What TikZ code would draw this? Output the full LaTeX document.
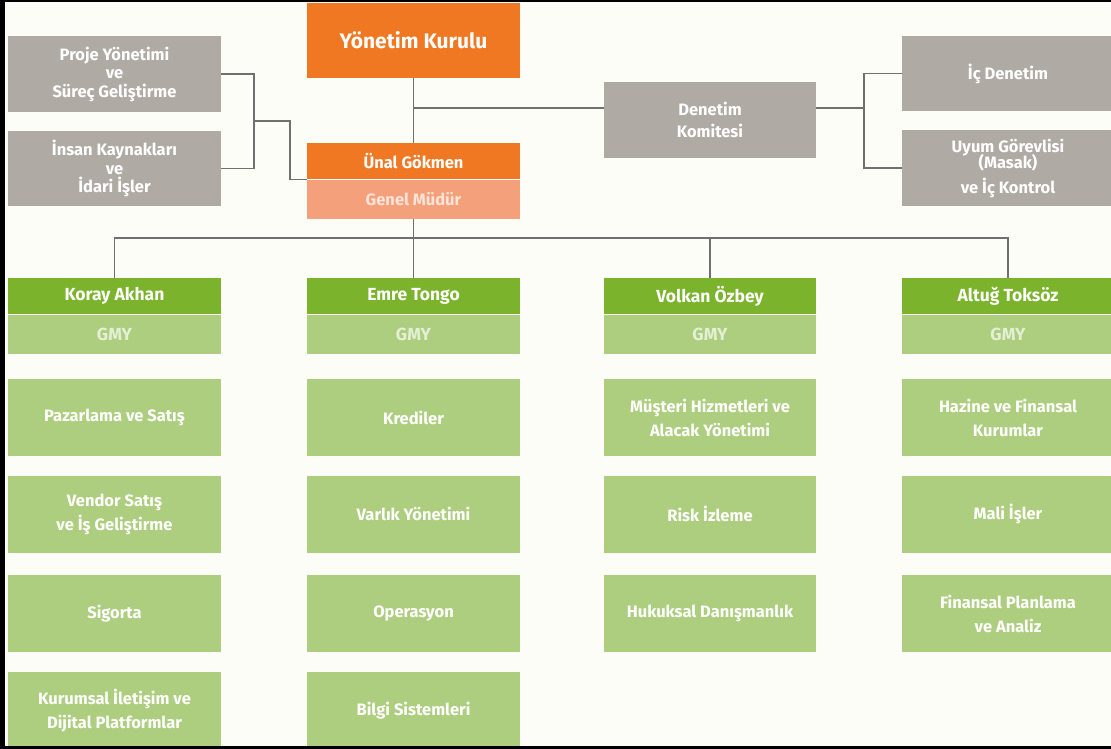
\documentclass[tikz,border=0pt]{standalone}
\usepackage{fontspec}
\setmainfont{Fira Sans}
\definecolor{bgc}{HTML}{FDFDF7}
\definecolor{orng}{HTML}{F07822}
\definecolor{salmon}{HTML}{F4A07B}
\definecolor{salmontext}{HTML}{FCE4D8}
\definecolor{boxgray}{HTML}{AFAAA4}
\definecolor{dgreen}{HTML}{7BB42C}
\definecolor{lgreen}{HTML}{ADCE7E}
\definecolor{gmytext}{HTML}{E4EFD6}
\definecolor{linec}{HTML}{707070}
\tikzset{
  box/.style={rectangle, inner sep=0pt, align=center, text=white,
    font=\bfseries\fontsize{16.5}{18.5}\selectfont, minimum width=213pt},
  graybox/.style={box, fill=boxgray, minimum height=76pt},
  orbox/.style={box, fill=orng},
  genbox/.style={box, fill=salmon, text=salmontext, minimum height=39pt},
  hdr/.style={box, fill=dgreen, minimum height=36pt, font=\bfseries\fontsize{17.5}{19}\selectfont},
  gmy/.style={box, fill=lgreen, minimum height=39pt, text=gmytext, font=\bfseries\fontsize{17.5}{19}\selectfont},
  unit/.style={box, fill=lgreen, minimum height=77pt, font=\bfseries\fontsize{16.5}{24}\selectfont},
  conn/.style={draw=linec, line width=1.2pt}
}
\begin{document}
\begin{tikzpicture}[x=1pt, y=-1pt]
\useasboundingbox (0,0) rectangle (1111,749);
\fill[bgc] (0,0) rectangle (1111,749);

% top area
\node[orbox, minimum height=75pt, font=\bfseries\fontsize{21}{23}\selectfont] (yk) at (413.5,40.5) {Yönetim Kurulu};
\node[orbox, minimum height=36pt] (unal) at (413.5,161) {Ünal Gökmen};
\node[genbox] (genel) at (413.5,199.5) {Genel Müdür};
\node[graybox] (proje) at (114.5,74) {Proje Yönetimi\\ve\\Süreç Geliştirme};
\node[graybox, minimum height=75pt] (insan) at (114.5,168.5) {İnsan Kaynakları\\ve\\İdari İşler};
\node[graybox, minimum width=212pt, font=\bfseries\fontsize{16.5}{22}\selectfont] (denetim) at (710,120) {Denetim\\Komitesi};
\node[graybox, minimum width=212pt, minimum height=75pt] (ic) at (1008,73.5) {İç Denetim};
\node[graybox, minimum width=212pt] (uyum) at (1008,168) {Uyum Görevlisi\\[-2pt](Masak)\\[6pt]ve İç Kontrol};

% columns
\node[hdr] (h1) at (114.5,296) {Koray Akhan};
\node[hdr] (h2) at (413.5,296) {Emre Tongo};
\node[hdr, minimum width=212pt] (h3) at (710,296) {Volkan Özbey};
\node[hdr, minimum width=212pt] (h4) at (1008,296) {Altuğ Toksöz};
\node[gmy] (g1) at (114.5,334.5) {GMY};
\node[gmy] (g2) at (413.5,334.5) {GMY};
\node[gmy, minimum width=212pt] (g3) at (710,334.5) {GMY};
\node[gmy, minimum width=212pt] (g4) at (1008,334.5) {GMY};

\node[unit] (a1) at (114.5,417.5) {Pazarlama ve Satış};
\node[unit] (a2) at (114.5,514) {Vendor Satış\\ve İş Geliştirme};
\node[unit] (a3) at (114.5,613.5) {Sigorta};
\node[unit] (a4) at (114.5,710.5) {Kurumsal İletişim ve\\Dijital Platformlar};

\node[unit] (b1u) at (413.5,417.5) {Krediler};
\node[unit] (b2u) at (413.5,514) {Varlık Yönetimi};
\node[unit] (b3u) at (413.5,613.5) {Operasyon};
\node[unit] (b4u) at (413.5,710.5) {Bilgi Sistemleri};

\node[unit, minimum width=212pt] (c1u) at (710,417.5) {Müşteri Hizmetleri ve\\Alacak Yönetimi};
\node[unit, minimum width=212pt] (c2u) at (710,514) {Risk İzleme};
\node[unit, minimum width=212pt] (c3u) at (710,613.5) {Hukuksal Danışmanlık};

\node[unit, minimum width=212pt] (d1u) at (1008,417.5) {Hazine ve Finansal\\Kurumlar};
\node[unit, minimum width=212pt] (d2u) at (1008,514) {Mali İşler};
\node[unit, minimum width=212pt] (d3u) at (1008,613.5) {Finansal Planlama\\ve Analiz};

% connectors
\coordinate (j1) at (413.5,108);
\coordinate (j2) at (864,108);
\coordinate (j3) at (254,121);
\coordinate (j4) at (290,121);
\coordinate (hb) at (413.5,238);
\draw[conn] (yk.south) -- (unal.north);
\draw[conn] (j1) -- (j1 -| denetim.west);
\draw[conn] (j2 -| denetim.east) -- (j2);
\draw[conn] (ic.west) -| (j2);
\draw[conn] (uyum.west) -| (j2);
\draw[conn] (proje.east) -| (j3);
\draw[conn] (insan.east) -| (j3);
\draw[conn] (j3) -- (j4) |- (unal.south west);
\draw[conn] (genel.south) -- (hb);
\draw[conn] (h1.north) -- (h1.north |- hb) -- (h4.north |- hb) -- (h4.north);
\draw[conn] (h2.north) -- (h2.north |- hb);
\draw[conn] (h3.north) -- (h3.north |- hb);

% frame
\fill[black] (0,0) rectangle (1111,2);
\fill[black] (0,0) rectangle (5,749);
\fill[black] (0,746) rectangle (1111,749);
\end{tikzpicture}
\end{document}
